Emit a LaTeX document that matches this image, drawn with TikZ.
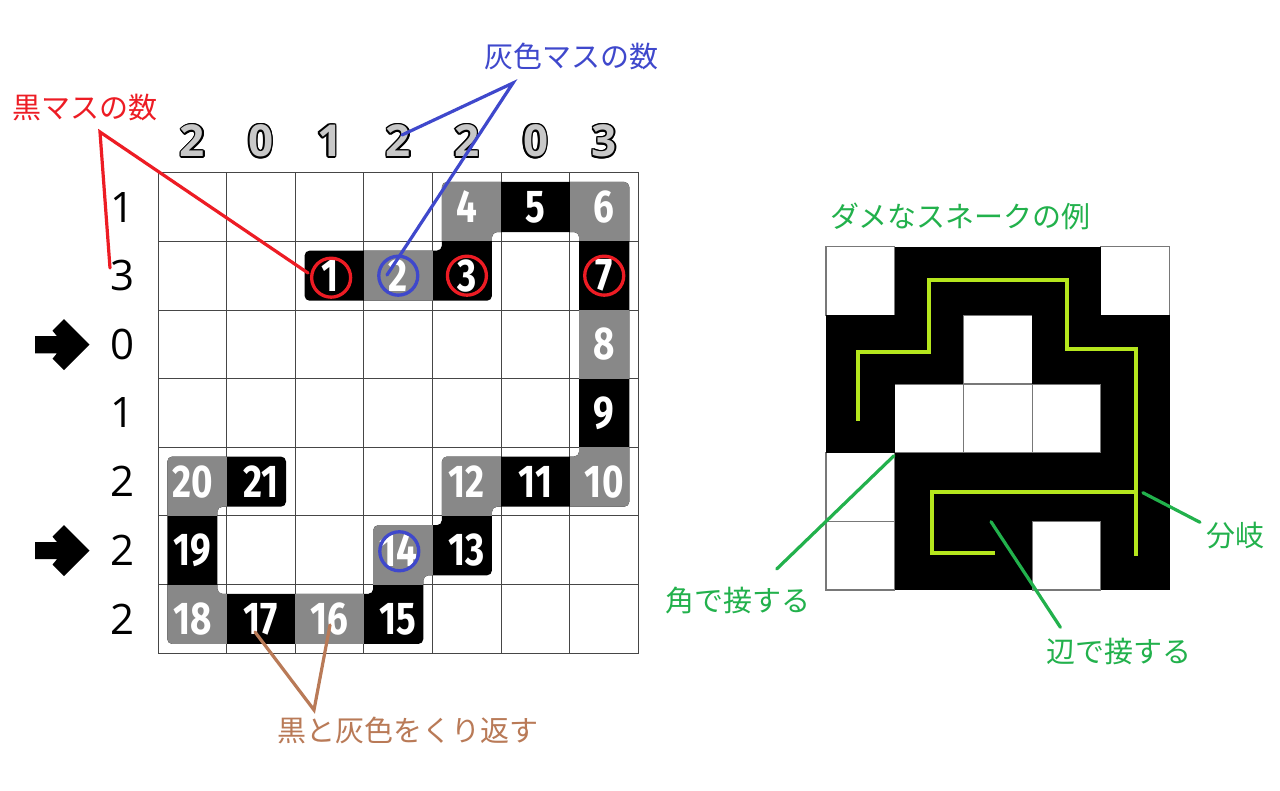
\documentclass[tikz,border=0pt]{standalone}
\usepackage{fontspec}
\usepackage{graphicx}
\setmainfont{Open Sans}
\newfontfamily\jp{Noto Sans CJK JP}
\newfontfamily\numfont{Fira Sans}
\newcommand\cnd[1]{\scalebox{0.8}[1]{#1}}
\definecolor{mred}{RGB}{237,28,36}
\definecolor{mblue}{RGB}{63,72,204}
\definecolor{mgreen}{RGB}{34,177,76}
\definecolor{mlime}{RGB}{181,230,29}
\definecolor{mbrown}{RGB}{185,122,87}
\definecolor{sgray}{RGB}{136,136,136}
\definecolor{lgray}{RGB}{200,200,200}
\definecolor{gridc}{RGB}{70,70,70}
\definecolor{wgridc}{RGB}{120,120,120}
\begin{document}
\begin{tikzpicture}[x=1pt,y=-1pt,
  jplabel/.style={font=\jp\fontsize{29}{31}\selectfont, inner sep=0},
  snum/.style={text=white, font=\numfont\bfseries\fontsize{46}{48}\selectfont, inner sep=0},
  rowclue/.style={font=\fontsize{42}{44}\selectfont, inner sep=0},
  colclue/.style={font=\bfseries\fontsize{44}{48}\selectfont, inner sep=0},
  ring/.style={line width=3.3pt},
  leader/.style={line width=3.2pt, line cap=round},
  limeline/.style={mlime, line width=4pt, line join=miter},
  wcell/.style={draw=wgridc, line width=1.2pt, fill=white},
  blockarrow/.style={fill=black}
]
\useasboundingbox[fill=white] (0,0) rectangle (1280,790);

% ---------- left puzzle grid ----------
\begin{scope}[shift={(158pt,-172.7pt)}, x=68.65pt, y=-68.65pt]
  \foreach \i in {0,...,7} {
    \draw[gridc, line width=1pt] (\i,0) -- (\i,7);
    \draw[gridc, line width=1pt] (0,\i) -- (7,\i);
  }
  \begin{scope}
    \clip[rounded corners=5pt]
      (2.135,1.135) -- (4.135,1.135) -- (4.135,0.135) -- (6.865,0.135)
      -- (6.865,4.865) -- (4.865,4.865) -- (4.865,5.865) -- (3.865,5.865)
      -- (3.865,6.865) -- (0.135,6.865) -- (0.135,4.135) -- (1.865,4.135)
      -- (1.865,4.865) -- (0.865,4.865) -- (0.865,6.135) -- (3.135,6.135)
      -- (3.135,5.135) -- (4.135,5.135) -- (4.135,4.135) -- (6.135,4.135)
      -- (6.135,0.865) -- (4.865,0.865) -- (4.865,1.865) -- (2.135,1.865) -- cycle;
    \fill[black] (0,0) rectangle (7,7);
    \foreach \c/\r in {3/1,4/0,6/0,6/2,6/4,4/4,3/5,2/6,0/6,0/4}
      \fill[sgray] (\c,\r) rectangle ++(1,1);
  \end{scope}
  \foreach \n/\c/\r in {1/2/1,2/3/1,3/4/1,4/4/0,5/5/0,6/6/0,7/6/1,8/6/2,9/6/3,
      10/6/4,11/5/4,12/4/4,13/4/5,14/3/5,15/3/6,16/2/6,17/1/6,18/0/6,19/0/5,20/0/4,21/1/4}
    \node[snum] (n\n) at (\c+0.5,\r+0.5) {\cnd{\n}};
  \draw[ring, mred] ([shift={(1.5pt,-2pt)}]n1.center) circle[radius=19.5pt];
  \draw[ring, mred] (n3.center) circle[radius=19.5pt];
  \draw[ring, mred] (n7.center) circle[radius=19.5pt];
  \draw[ring, mblue] (n2.center) circle[radius=19.5pt];
  \draw[ring, mblue] ([shift={(1pt,-1pt)}]n14.center) circle[radius=19.5pt];
\end{scope}

% column clues (outlined)
\foreach \d [count=\i from 0] in {2,0,1,2,2,0,3} {
  \pgfmathsetmacro\xx{158+68.65*(\i+0.5)}
  \foreach \a [count=\k] in {0,30,...,330}
    \node[colclue, text=black] (co\i-\k) at ([shift={(\a:1.5pt)}]\xx,141) {\d};
  \node[colclue, text=lgray] (col\i) at (\xx,141) {\d};
}
% row clues
\foreach \d [count=\i from 0] in {1,3,0,1,2,2,2}
  \node[rowclue] (row\i) at (123,{172.7+68.65*(\i+0.5)}) {\d};

% block arrows
\foreach \yy/\nm in {344.7/arrA,550.6/arrB} {
  \begin{scope}[shift={(0pt,-\yy pt)}]
    \fill[blockarrow] (35,-8.6) -- (57,-8.6) -- (52.5,-14) -- (64,-25.5) -- (89.5,0)
      -- (64,25.5) -- (52.5,14) -- (57,8.6) -- (35,8.6) -- cycle;
  \end{scope}
}

% ---------- labels and leaders (left) ----------
\node[jplabel, text=mred] (lblack) at (85,108) {黒マスの数};
\node[jplabel, text=mblue] (lgrey) at (571,56) {灰色マスの数};
\node[jplabel, text=mbrown] (lrep) at (408,730) {黒と灰色をくり返す};

\coordinate (rapex) at (100,132);
\coordinate (rt1) at (110,268);
\coordinate (rt2) at (308,273);
\draw[leader, mred] (rt1) -- (rapex) -- (rt2);

\coordinate (bapex) at (513,83);
\coordinate (bt1) at (402,135);
\coordinate (bt2) at (387,275);
\draw[leader, mblue] (bt1) -- (bapex) -- (bt2);

\coordinate (brapex) at (314,710);
\coordinate (brt1) at (255,632);
\coordinate (brt2) at (330,625);
\draw[leader, mbrown] (brt1) -- (brapex) -- (brt2);

% ---------- right example grid ----------
\begin{scope}[shift={(826pt,-246.5pt)}, x=68.7pt, y=-68.7pt]
  \foreach \c/\r in {0/0,4/0,2/1,1/2,2/2,3/2,0/3,0/4,3/4}
    \draw[wcell] (\c,\r) rectangle ++(1,1);
  \foreach \c/\r in {1/0,2/0,3/0,0/1,1/1,3/1,4/1,0/2,4/2,1/3,2/3,3/3,4/3,1/4,2/4,4/4}
    \fill[black] (\c,\r) rectangle ++(1,1);
\end{scope}
\draw[limeline] (858.4,420.7) -- (858.4,352.3) -- (928.6,352.3) -- (928.6,280)
  -- (1066.5,280) -- (1066.5,349) -- (1135.9,349) -- (1135.9,555.7);
\draw[limeline] (1135.9,491.7) -- (931.8,491.7) -- (931.8,553.3) -- (995,553.3);

\node[jplabel, text=mgreen] (ltitle) at (960.5,216) {ダメなスネークの例};
\node[jplabel, text=mgreen] (lcorner) at (738,601) {角で接する};
\node[jplabel, text=mgreen] (ledge) at (1118.5,651) {辺で接する};
\node[jplabel, text=mgreen] (lbranch) at (1235,536) {分岐};

\coordinate (g1a) at (894,455.7);
\coordinate (g1b) at (776.7,569);
\coordinate (g2a) at (991,521.7);
\coordinate (g2b) at (1060.4,627.3);
\coordinate (g3a) at (1142.9,492.7);
\coordinate (g3b) at (1200,522.3);
\draw[leader, mgreen] (g1a) -- (g1b);
\draw[leader, mgreen] (g2a) -- (g2b);
\draw[leader, mgreen] (g3a) -- (g3b);
\end{tikzpicture}
\end{document}
